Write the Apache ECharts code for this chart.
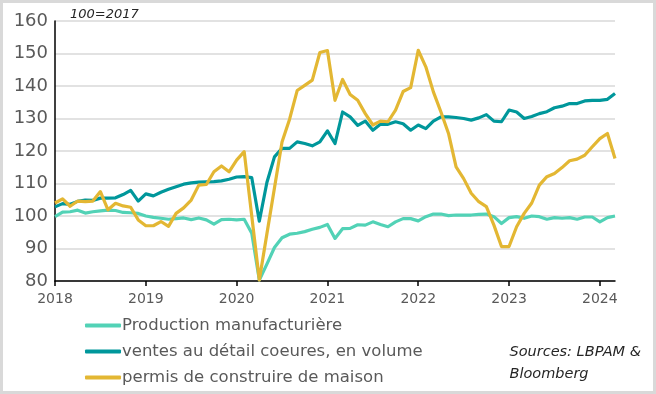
<!DOCTYPE html>
<html>
<head>
<meta charset="utf-8">
<script src="https://cdn.jsdelivr.net/npm/echarts@6/dist/echarts.min.js"></script>
<style>
html,body{margin:0;padding:0;background:#fff;}
#c{width:656px;height:394px;}
</style>
</head>
<body>
<div id="c"></div>
<script>
// Months Jan 2018 .. Mar 2024
var categories = [
"2018-01","2018-02","2018-03","2018-04","2018-05","2018-06","2018-07","2018-08","2018-09","2018-10","2018-11","2018-12",
"2019-01","2019-02","2019-03","2019-04","2019-05","2019-06","2019-07","2019-08","2019-09","2019-10","2019-11","2019-12",
"2020-01","2020-02","2020-03","2020-04","2020-05","2020-06","2020-07","2020-08","2020-09","2020-10","2020-11","2020-12",
"2021-01","2021-02","2021-03","2021-04","2021-05","2021-06","2021-07","2021-08","2021-09","2021-10","2021-11","2021-12",
"2022-01","2022-02","2022-03","2022-04","2022-05","2022-06","2022-07","2022-08","2022-09","2022-10","2022-11","2022-12",
"2023-01","2023-02","2023-03","2023-04","2023-05","2023-06","2023-07","2023-08","2023-09","2023-10","2023-11","2023-12",
"2024-01","2024-02","2024-03"
];

var productionManufacturiere = [
99.8,101.2,101.3,101.8,100.9,101.3,101.6,101.8,101.7,101.1,101.0,100.8,
100.0,99.6,99.3,99.0,99.2,99.4,98.9,99.4,98.8,97.5,98.9,99.0,
98.8,99.0,94.7,80.3,85.2,90.3,93.3,94.4,94.7,95.2,95.9,96.5,
97.4,93.1,96.1,96.2,97.3,97.2,98.2,97.4,96.7,98.2,99.2,99.2,
98.5,99.8,100.6,100.6,100.1,100.3,100.3,100.3,100.5,100.6,99.8,97.7,
99.5,99.8,99.3,100.0,99.8,99.0,99.5,99.3,99.5,99.0,99.7,99.7,
98.2,99.5,100.0
];

var ventesDetail = [
102.8,103.8,103.6,104.5,104.9,104.8,105.5,105.5,105.6,106.6,107.9,104.6,
106.8,106.2,107.3,108.2,109.0,109.8,110.2,110.4,110.5,110.6,110.8,111.3,
112.0,112.1,111.8,98.4,110.3,118.2,120.8,120.8,122.8,122.3,121.6,122.8,
126.2,122.3,132.0,130.5,127.9,129.2,126.4,128.2,128.2,129.0,128.4,126.4,
128.0,126.9,129.2,130.5,130.5,130.3,130.0,129.5,130.2,131.2,129.2,129.0,
132.6,132.0,130.0,130.6,131.5,132.1,133.3,133.8,134.6,134.6,135.4,135.6,
135.6,135.9,137.7
];

var permisConstruire = [
104.0,105.3,103.0,104.6,104.4,104.6,107.5,101.9,103.9,103.1,102.7,98.8,
97.0,97.0,98.3,96.8,100.8,102.5,104.9,109.5,109.7,113.6,115.4,113.6,
117.2,119.8,100.0,80.3,94.5,108.6,122.8,129.8,138.6,140.2,141.8,150.3,
150.9,135.6,142.0,137.4,135.6,131.5,128.0,129.2,129.0,132.6,138.3,139.5,
151.0,145.9,138.2,132.0,125.4,115.1,111.5,107.0,104.4,102.9,97.2,90.6,
90.6,96.7,100.8,104.0,109.5,112.1,113.1,114.9,117.0,117.5,118.7,121.3,
123.8,125.4,117.7
];

var seriesNames = ["Production manufacturière", "ventes au détail coeures, en volume", "permis de construire de maison"];
var seriesColors = ["#52d2b6", "#00979b", "#e3b733"];
var yMin = 80, yMax = 160, yStep = 10;
var baseNote = "100=2017";
var sourceLines = ["Sources: LBPAM &", "Bloomberg"];

var FONT = "DejaVu Sans";
var chart = echarts.init(document.getElementById('c'), null, {renderer: 'canvas'});

var data = [productionManufacturiere, ventesDetail, permisConstruire];
var series = data.map(function (d, k) {
  return {
    name: seriesNames[k],
    type: 'line',
    data: d,
    symbol: 'none',
    smooth: false,
    lineStyle: {width: 3.2, color: seriesColors[k], join: 'round'},
    itemStyle: {color: seriesColors[k]},
    z: 2 + k
  };
});

chart.setOption({
  animation: false,
  backgroundColor: '#ffffff',
  grid: {left: 55, right: 41, top: 21, bottom: 113, containLabel: false},
  legend: {
    orient: 'vertical',
    left: 80,
    top: 312,
    icon: 'roundRect',
    itemWidth: 36,
    itemHeight: 4,
    itemGap: 9,
    textStyle: {fontFamily: FONT, fontSize: 16.5, color: '#595959', padding: [0, 0, 0, -4]},
    data: seriesNames
  },
  xAxis: {
    type: 'category',
    data: categories,
    boundaryGap: false,
    axisLine: {show: true, lineStyle: {color: '#000', width: 1.5}},
    axisTick: {show: true, length: 5, lineStyle: {color: '#000', width: 1.5},
      interval: function (i) { return i % 12 === 0; }},
    axisLabel: {
      interval: function (i) { return i % 12 === 0; },
      formatter: function (v) { return v.slice(0, 4); },
      fontFamily: FONT, fontSize: 14, color: '#595959', margin: 11
    },
    splitLine: {show: false}
  },
  yAxis: {
    type: 'value',
    min: yMin, max: yMax, interval: yStep,
    axisLine: {show: true, lineStyle: {color: '#000', width: 1.5}},
    axisTick: {show: false},
    axisLabel: {fontFamily: FONT, fontSize: 18, color: '#595959', margin: 7},
    splitLine: {show: true, lineStyle: {color: '#d9d9d9', width: 1.5}}
  },
  graphic: [
    {type: 'rect', shape: {x: 1.5, y: 1.5, width: 653, height: 391},
     style: {fill: 'none', stroke: '#d9d9d9', lineWidth: 3}, silent: true, z: 0},
    {type: 'text', left: 70, top: 8,
     style: {text: baseNote, font: 'italic 13px "' + FONT + '"', fill: '#262626'}},
    {type: 'text', right: 15, top: 341,
     style: {text: sourceLines.join('\n'), font: 'italic 14.5px "' + FONT + '"', fill: '#262626',
             align: 'right', lineHeight: 22}}
  ],
  series: series
});
</script>
</body>
</html>
